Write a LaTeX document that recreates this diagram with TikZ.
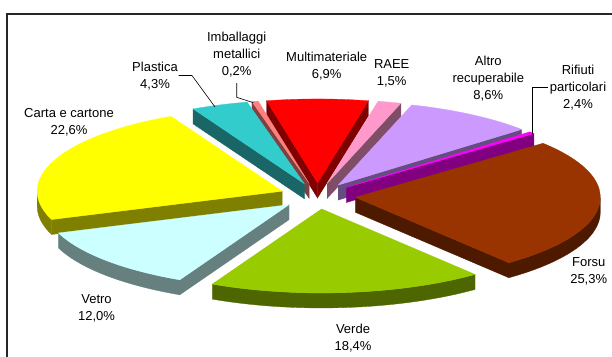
\documentclass[tikz,border=0pt]{standalone}
\usepackage{fontspec}
\setmainfont{Liberation Sans}
\definecolor{multiT}{HTML}{FF0000}\definecolor{multiS}{HTML}{800000}
\definecolor{imbT}{HTML}{FF8080}\definecolor{imbS}{HTML}{804040}
\definecolor{raeeT}{HTML}{FF99CC}\definecolor{raeeS}{HTML}{804D66}
\definecolor{plaT}{HTML}{33CCCC}\definecolor{plaS}{HTML}{1A6666}
\definecolor{altT}{HTML}{CC99FF}\definecolor{altS}{HTML}{664D80}
\definecolor{rifT}{HTML}{FF00FF}\definecolor{rifS}{HTML}{800080}
\definecolor{carT}{HTML}{FFFF00}\definecolor{carS}{HTML}{808000}
\definecolor{forT}{HTML}{993300}\definecolor{forS}{HTML}{4D1A00}
\definecolor{vetT}{HTML}{CCFFFF}\definecolor{vetS}{HTML}{668080}
\definecolor{verT}{HTML}{99CC00}\definecolor{verS}{HTML}{4D6600}
% top face: #1 t1, #2 t2, #3 colour
\newcommand{\topface}[3]{\filldraw[fill=#3,draw=#3,line width=0.3pt] (0,0) -- (#1:245pt and 84pt) arc[start angle=#1,end angle=#2,x radius=245pt,y radius=84pt] -- cycle;}
% rim band from #1 to #2
\newcommand{\rimband}[3]{\filldraw[fill=#3,draw=#3,line width=0.3pt] (#1:245pt and 84pt) arc[start angle=#1,end angle=#2,x radius=245pt,y radius=84pt] -- ++(0pt,-15pt) arc[start angle=#2,end angle=#1,x radius=245pt,y radius=84pt] -- cycle;}
% cut face at angle #1
\newcommand{\cutface}[2]{\filldraw[fill=#2,draw=#2,line width=0.3pt] (0pt,0pt) -- (#1:245pt and 84pt) -- ++(0pt,-15pt) -- (0pt,-15pt) -- cycle;}
\tikzset{
  lbl/.style={align=center,inner sep=0pt,font=\fontsize{13}{17}\selectfont,text=black},
  leader/.style={draw=black,line width=0.6pt},
  frameline/.style={draw=black!85,line width=1.5pt}
}
\begin{document}
\begin{tikzpicture}[x=1pt,y=1pt]
\useasboundingbox (0,0) rectangle (612,-356);
\fill[white] (0,0) rectangle (612,-356);
\draw[frameline] (7,-357) -- (7,-14) -- (613,-14);
% Multimateriale
\begin{scope}[shift={(317.5pt,-196pt)},shift={(90:38pt and 13.03pt)}]
\cutface{78}{multiS}\cutface{102}{multiS}\topface{78}{102}{multiT}
\end{scope}
% Imballaggi metallici
\begin{scope}[shift={(317.5pt,-196pt)},shift={(102.75:38pt and 13.03pt)}]
\cutface{103.5}{imbS}\topface{102}{103.5}{imbT}
\end{scope}
% RAEE
\begin{scope}[shift={(317.5pt,-196pt)},shift={(75.25:38pt and 13.03pt)}]
\cutface{72.5}{raeeS}\topface{72.5}{78}{raeeT}
\end{scope}
% Plastica
\begin{scope}[shift={(317.5pt,-196pt)},shift={(110.25:38pt and 13.03pt)}]
\cutface{117}{plaS}\topface{103.5}{117}{plaT}
\end{scope}
% Altro recuperabile
\begin{scope}[shift={(317.5pt,-196pt)},shift={(57:38pt and 13.03pt)}]
\cutface{41.5}{altS}\topface{41.5}{72.5}{altT}
\end{scope}
% Rifiuti particolari
\begin{scope}[shift={(317.5pt,-196pt)},shift={(40.75:38pt and 13.03pt)}]
\cutface{40}{rifS}\topface{40}{41.5}{rifT}
\end{scope}
% Carta e cartone
\begin{scope}[shift={(317.5pt,-196pt)},shift={(158.35:38pt and 13.03pt)}]
\rimband{180}{199.7}{carS}\cutface{199.7}{carS}\topface{117}{199.7}{carT}
\end{scope}
% Forsu
\begin{scope}[shift={(317.5pt,-196pt)},shift={(354.4:38pt and 13.03pt)}]
\rimband{308.8}{360}{forS}\cutface{308.8}{forS}\topface{308.8}{400}{forT}
\end{scope}
% Vetro
\begin{scope}[shift={(317.5pt,-196pt)},shift={(221.6:38pt and 13.03pt)}]
\rimband{199.7}{243.5}{vetS}\cutface{243.5}{vetS}\topface{199.7}{243.5}{vetT}
\end{scope}
% Verde
\begin{scope}[shift={(317.5pt,-196pt)},shift={(276.15:38pt and 13.03pt)}]
\rimband{243.5}{308.8}{verS}\topface{243.5}{308.8}{verT}
\end{scope}
% labels
\node[lbl] (limb) at (236.7,-54.5) {Imballaggi\\metallici\\0,2\%};
\node[lbl] (lpla) at (155,-76) {Plastica\\4,3\%};
\node[lbl] (lmul) at (326.7,-66.5) {Multimateriale\\6,9\%};
\node[lbl] (lrae) at (391.7,-73) {RAEE\\1,5\%};
\node[lbl] (lalt) at (488.3,-79) {Altro\\recuperabile\\8,6\%};
\node[lbl] (lrif) at (578,-88) {Rifiuti\\particolari\\2,4\%};
\node[lbl] (lcar) at (69,-122) {Carta e cartone\\22,6\%};
\node[lbl] (lvet) at (96.5,-308.7) {Vetro\\12,0\%};
\node[lbl] (lfor) at (588.7,-271.7) {Forsu\\25,3\%};
\node[lbl] (lver) at (353,-338.3) {Verde\\18,4\%};
% leader lines
\coordinate (pa) at (178.5,-75.5);
\coordinate (pb) at (215,-107);
\draw[leader] (pa) -- (192,-75.5) -- (pb);
\coordinate (ia) at (236.7,-83);
\coordinate (ib) at (253.3,-102.7);
\draw[leader] (ia) -- (236.7,-97.3) -- (ib);
\coordinate (ra) at (548,-87.3);
\coordinate (rb) at (532.7,-134);
\draw[leader] (ra) -- (532.7,-87.3) -- (rb);
\end{tikzpicture}
\end{document}
